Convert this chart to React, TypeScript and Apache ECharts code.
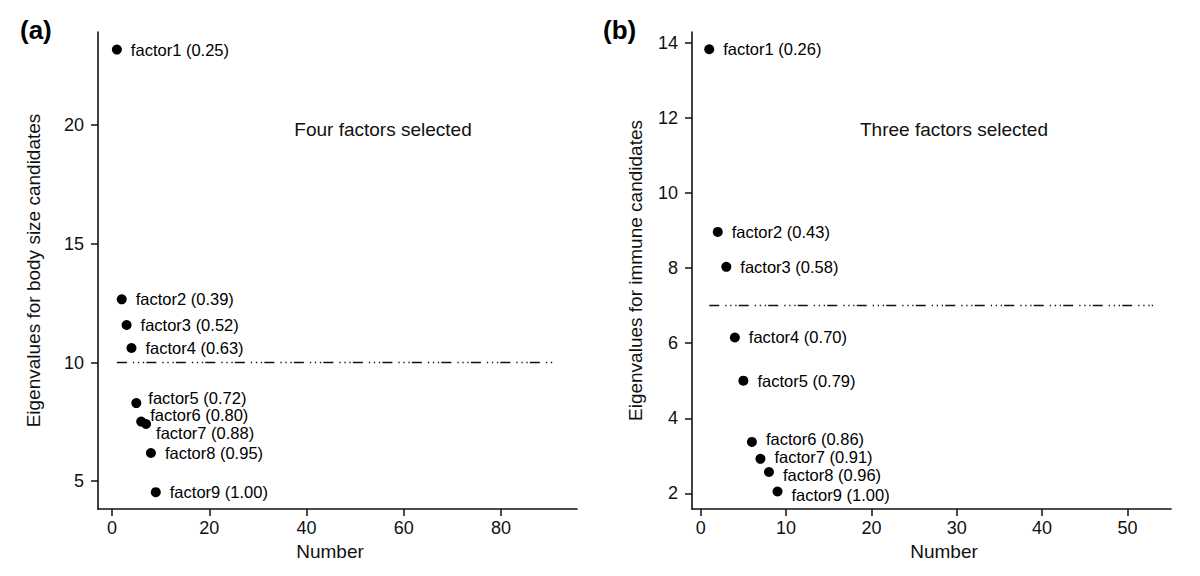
import React, { useEffect, useRef } from "react";
import * as echarts from "echarts";

// ---- data ----
const factorNumbers = [1, 2, 3, 4, 5, 6, 7, 8, 9];
const bodySizeEigenvalues = [23.18, 12.66, 11.58, 10.61, 8.29, 7.51, 7.41, 6.19, 4.54];
const bodySizeCumulative = ["0.25", "0.39", "0.52", "0.63", "0.72", "0.80", "0.88", "0.95", "1.00"];
const immuneEigenvalues = [13.82, 8.96, 8.03, 6.15, 5.0, 3.37, 2.92, 2.57, 2.05];
const immuneCumulative = ["0.26", "0.43", "0.58", "0.70", "0.79", "0.86", "0.91", "0.96", "1.00"];

const bodySizeCutoff = 10;
const bodySizeCutoffSpan = [1, 91];
const immuneCutoff = 7;
const immuneCutoffSpan = [1, 53];

const bodySizeTicksX = [0, 20, 40, 60, 80];
const bodySizeTicksY = [5, 10, 15, 20];
const immuneTicksX = [0, 10, 20, 30, 40, 50];
const immuneTicksY = [2, 4, 6, 8, 10, 12, 14];

const bodySizeNote = "Four factors selected";
const immuneNote = "Three factors selected";

// ---- styling (label nudges for crowded points, keyed by point index) ----
const bodySizeLabelNudge: Record<number, [number, number]> = {
  4: [-2, -5],
  5: [-5, -7],
  6: [-4, 9],
};
const immuneLabelNudge: Record<number, [number, number]> = {
  5: [0, -3],
  6: [0, -2],
  7: [0, 3],
  8: [0, 3],
};

const FONT = "'Liberation Sans', Arial, Helvetica, sans-serif";
const INK = "#111";

function makePoints(eig: number[], cum: string[], nudge: Record<number, [number, number]>) {
  return factorNumbers.map((n, i) => {
    const item: any = { value: [n, eig[i]], name: `factor${n} (${cum[i]})` };
    if (nudge[i]) item.label = { offset: nudge[i] };
    return item;
  });
}

function xAxisFor(gridIndex: number, min: number, max: number, ticks: number[], padding: number[]) {
  return {
    type: "value",
    gridIndex,
    min,
    max,
    name: "Number",
    nameLocation: "middle",
    nameGap: 31,
    nameTextStyle: { fontFamily: FONT, fontSize: 19, color: INK, padding },
    axisLine: { show: true, onZero: false, lineStyle: { color: INK, width: 1.6 } },
    axisTick: { show: true, length: 7, lineStyle: { color: INK, width: 1.5 }, customValues: ticks },
    axisLabel: { fontFamily: FONT, fontSize: 18, color: INK, margin: 10, customValues: ticks },
    splitLine: { show: false },
  };
}

function yAxisFor(gridIndex: number, min: number, max: number, ticks: number[], name: string, gap: number) {
  return {
    type: "value",
    gridIndex,
    min,
    max,
    name,
    nameLocation: "middle",
    nameGap: gap,
    nameTextStyle: { fontFamily: FONT, fontSize: 19, color: INK },
    axisLine: { show: true, onZero: false, lineStyle: { color: INK, width: 1.6 } },
    axisTick: { show: true, length: 7, lineStyle: { color: INK, width: 1.5 }, customValues: ticks },
    axisLabel: { fontFamily: FONT, fontSize: 18, color: INK, margin: 14, customValues: ticks },
    splitLine: { show: false },
  };
}

function scatterFor(idx: number, data: any[]) {
  return {
    type: "scatter",
    xAxisIndex: idx,
    yAxisIndex: idx,
    symbol: "circle",
    symbolSize: 10,
    itemStyle: { color: "#000", opacity: 1 },
    data,
    label: {
      show: true,
      position: "right",
      distance: 9,
      formatter: "{b}",
      fontFamily: FONT,
      fontSize: 16.5,
      lineHeight: 13,
      color: "#000",
    },
    emphasis: { disabled: true },
    z: 3,
  };
}

function cutoffFor(idx: number, level: number, span: number[]) {
  return {
    type: "line",
    xAxisIndex: idx,
    yAxisIndex: idx,
    data: [
      [span[0], level],
      [span[1], level],
    ],
    symbol: "none",
    lineStyle: { color: "#111", width: 1.6, type: [10, 6, 1.3, 3.7, 1.3, 3.7, 1.3, 2.2] },
    emphasis: { disabled: true },
    z: 2,
  };
}

export default function App() {
  const ref = useRef<HTMLDivElement>(null);
  useEffect(() => {
    if (!ref.current) return;
    const chart = echarts.init(ref.current, undefined, { renderer: "svg" });
    chart.setOption({
      animation: false,
      backgroundColor: "#fff",
      grid: [
        { left: 98, top: 32, width: 479, height: 477 },
        { left: 692, top: 32, width: 479, height: 477 },
      ],
      xAxis: [
        xAxisFor(0, -2.88, 95.6, bodySizeTicksX, [0, 15, 0, 0]),
        xAxisFor(1, -1.02, 55.1, immuneTicksX, [0, 0, 0, 25]),
      ],
      yAxis: [
        yAxisFor(0, 3.83, 23.92, bodySizeTicksY, "Eigenvalues for body size candidates", 55),
        yAxisFor(1, 1.585, 14.28, immuneTicksY, "Eigenvalues for immune candidates", 47),
      ],
      series: [
        cutoffFor(0, bodySizeCutoff, bodySizeCutoffSpan),
        scatterFor(0, makePoints(bodySizeEigenvalues, bodySizeCumulative, bodySizeLabelNudge)),
        cutoffFor(1, immuneCutoff, immuneCutoffSpan),
        scatterFor(1, makePoints(immuneEigenvalues, immuneCumulative, immuneLabelNudge)),
      ],
      graphic: [
        {
          type: "text",
          left: 20,
          top: 17,
          style: { text: "(a)", fontFamily: FONT, fontSize: 26, fontWeight: "bold", fill: "#000" },
        },
        {
          type: "text",
          left: 603,
          top: 17,
          style: { text: "(b)", fontFamily: FONT, fontSize: 26, fontWeight: "bold", fill: "#000" },
        },
        {
          type: "text",
          x: 383,
          y: 129,
          style: {
            text: bodySizeNote,
            fontFamily: FONT,
            fontSize: 19,
            fill: INK,
            align: "center",
            verticalAlign: "middle",
          },
        },
        {
          type: "text",
          x: 954,
          y: 129,
          style: {
            text: immuneNote,
            fontFamily: FONT,
            fontSize: 19,
            fill: INK,
            align: "center",
            verticalAlign: "middle",
          },
        },
      ],
    });
    return () => chart.dispose();
  }, []);
  return (
    <div
      ref={ref}
      style={{ position: "fixed", left: 0, top: 0, width: 1200, height: 576, background: "#fff" }}
    />
  );
}
